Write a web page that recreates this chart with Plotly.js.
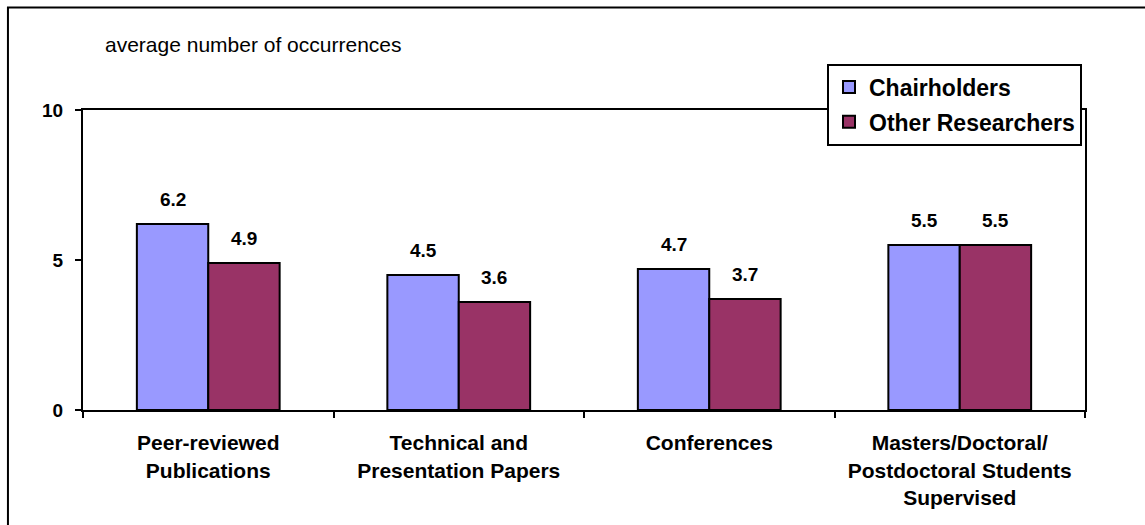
<!DOCTYPE html>
<html>
<head>
<meta charset="utf-8">
<script src="https://cdn.plot.ly/plotly-3.0.1.min.js"></script>
<style>
  html, body { margin: 0; padding: 0; background: #ffffff; }
  #chart { width: 1145px; height: 525px; }
</style>
</head>
<body>
<div id="chart"></div>
<script>
// Activity categories (line breaks are part of the axis labels)
const categories = [
  "Peer-reviewed<br>Publications",
  "Technical and<br>Presentation Papers",
  "Conferences",
  "Masters/Doctoral/<br>Postdoctoral Students<br>Supervised"
];

// Average number of occurrences per group
const chairholders = [6.2, 4.5, 4.7, 5.5];
const otherResearchers = [4.9, 3.6, 3.7, 5.5];

const seriesNames = ["Chairholders", "Other Researchers"];
const seriesColors = ["#9999FF", "#993366"];

const yTickVals = [0, 5, 10];
const yTickText = ["0", "5", "10"];

const FONT = "Liberation Sans, Arial, Helvetica, sans-serif";

// Plot-area geometry used for label offsets
const plotWidth = 1145 - 83 - 60;
const bargap = 0.43;
const barPx = (plotWidth / categories.length) * (1 - bargap) / 2;

const traces = [chairholders, otherResearchers].map((vals, i) => ({
  type: "bar",
  name: seriesNames[i],
  legendgroup: seriesNames[i],
  x: categories,
  y: vals,
  marker: { color: seriesColors[i], line: { color: "#000000", width: 2 } },
  hoverinfo: "skip"
}));

// Value labels above each bar
const annotations = [];
[chairholders, otherResearchers].forEach((vals, i) => {
  vals.forEach((v, j) => {
    annotations.push({
      x: categories[j], y: v, xref: "x", yref: "y",
      text: v.toFixed(1), showarrow: false,
      xanchor: "center", yanchor: "bottom",
      xshift: (i === 0 ? -1 : 1) * barPx / 2,
      yshift: 12,
      font: { family: FONT, size: 19, color: "#000000", weight: "bold" }
    });
  });
});

// Axis caption in the upper-left corner
annotations.push({
  xref: "paper", yref: "paper", x: 0.02, y: 1.218,
  xanchor: "left", yanchor: "middle", showarrow: false,
  text: "average number of occurrences",
  font: { family: FONT, size: 21, color: "#000000" }
});

const layout = {
  width: 1145,
  height: 525,
  margin: { l: 83, r: 60, t: 110, b: 115 },
  paper_bgcolor: "#ffffff",
  plot_bgcolor: "#ffffff",
  barmode: "group",
  bargap: bargap,
  bargroupgap: 0,
  showlegend: true,
  legend: {
    x: 0.997, y: 1.155, xanchor: "right", yanchor: "top",
    bgcolor: "#ffffff", bordercolor: "#000000", borderwidth: 2,
    font: { family: FONT, size: 23, color: "#000000", weight: "bold" },
    traceorder: "grouped", tracegroupgap: 2
  },
  xaxis: {
    type: "category",
    showline: true, linecolor: "#000000", linewidth: 2, mirror: true,
    showgrid: false, zeroline: false,
    ticks: "outside", tickson: "boundaries", ticklen: 6, tickwidth: 2, tickcolor: "#000000",
    ticklabelstandoff: 13,
    tickfont: { family: FONT, size: 21, color: "#000000", weight: "bold" },
    fixedrange: true
  },
  yaxis: {
    range: [0, 10],
    tickmode: "array", tickvals: yTickVals, ticktext: yTickText,
    showline: true, linecolor: "#000000", linewidth: 2, mirror: true,
    showgrid: false, zeroline: false,
    ticks: "outside", ticklen: 6, tickwidth: 2, tickcolor: "#000000",
    ticklabelstandoff: 8,
    tickfont: { family: FONT, size: 19, color: "#000000", weight: "bold" },
    fixedrange: true
  },
  annotations: annotations,
  shapes: [{
    type: "rect", xref: "paper", yref: "paper",
    x0: -0.0749, x1: 1.1, y0: -0.5, y1: 1.3417,
    line: { color: "#000000", width: 2 }, fillcolor: "rgba(0,0,0,0)", layer: "below"
  }]
};

Plotly.newPlot("chart", traces, layout, { displayModeBar: false, staticPlot: true });
</script>
</body>
</html>
